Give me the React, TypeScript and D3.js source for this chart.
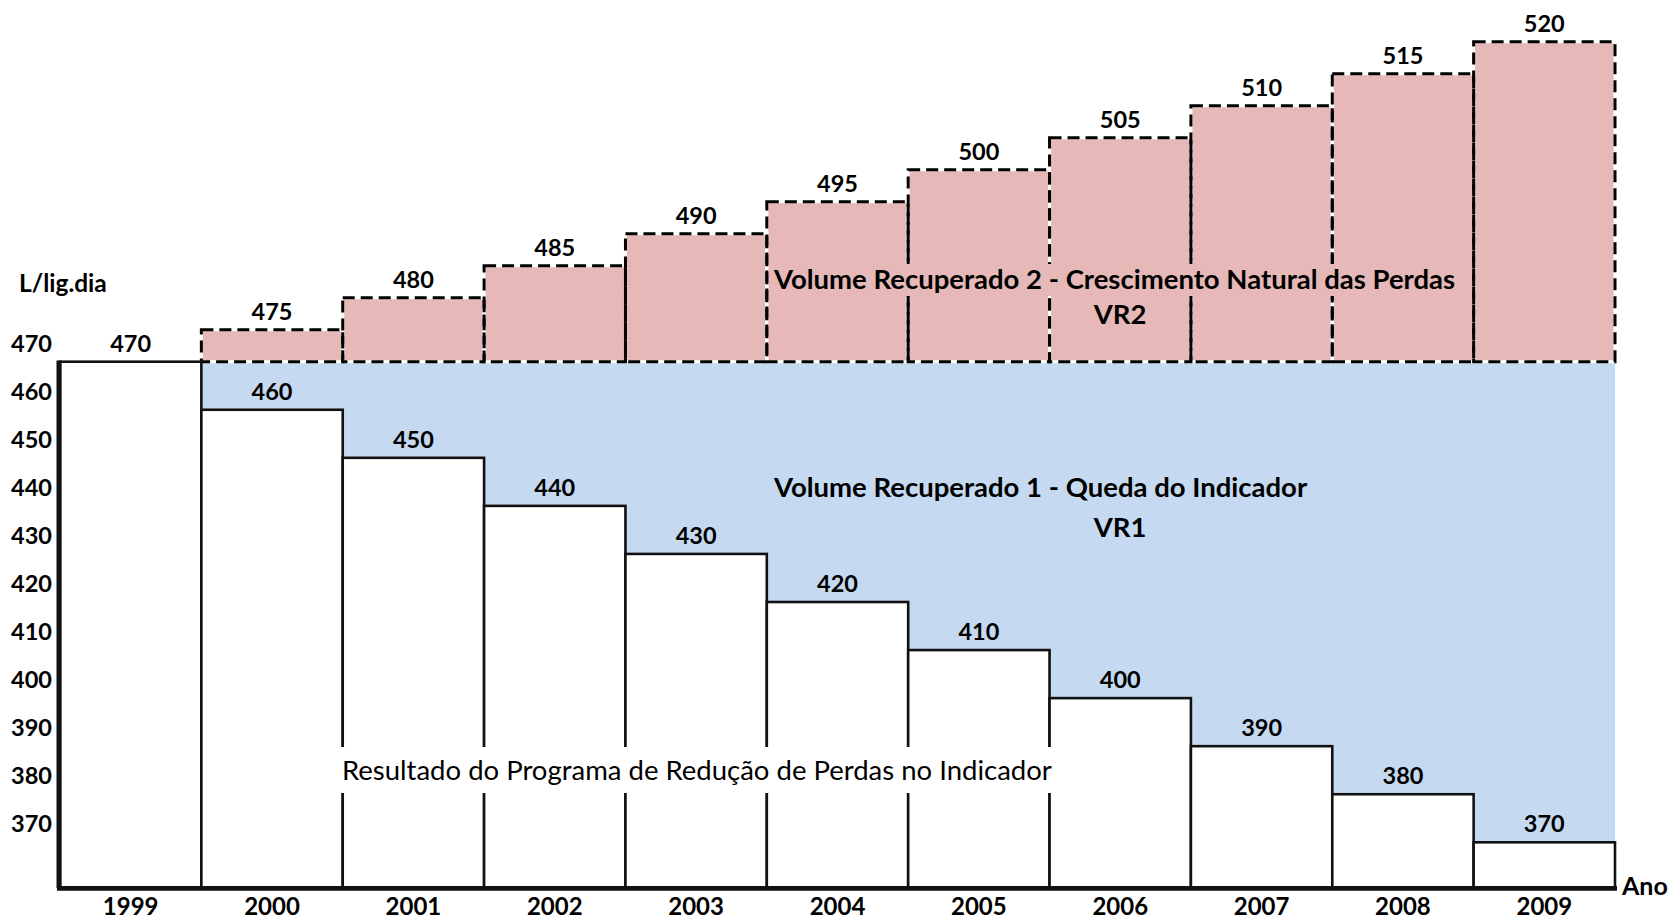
import React from 'react';
import * as d3 from 'd3';

const years = ['1999', '2000', '2001', '2002', '2003', '2004', '2005', '2006', '2007', '2008', '2009'];
const indicatorValues = [470, 460, 450, 440, 430, 420, 410, 400, 390, 380, 370];
const naturalYears = ['2000', '2001', '2002', '2003', '2004', '2005', '2006', '2007', '2008', '2009'];
const naturalValues = [475, 480, 485, 490, 495, 500, 505, 510, 515, 520];
const yTicks = [470, 460, 450, 440, 430, 420, 410, 400, 390, 380, 370];

const W = 1669;
const H = 920;
const FONT = 'Lato, "Open Sans", sans-serif';
const PINK = '#e6b8b7';
const BLUE = '#c5d9f1';

export default function App() {
  const x = d3.scaleBand<string>().domain(years).range([60, 1615]).padding(0);
  const y = d3.scaleLinear().domain([370, 470]).range([842.3, 361.7]);
  const y2 = d3.scaleLinear().domain([470, 520]).range([y(470), 41.7]);
  const baseline = 888.3;
  const bw = x.bandwidth();
  const right = x.range()[1];
  const numSize = 23.5;

  return (
    <svg width={W} height={H} style={{ position: 'absolute', left: 0, top: 0, background: '#fff' }}>
      <rect x={0} y={0} width={W} height={H} fill="#fff" />
      {/* VR1 blue area */}
      <rect x={x('2000')!} y={y(470)} width={right - x('2000')!} height={baseline - y(470)} fill={BLUE} />
      {/* VR2 pink bars */}
      {naturalYears.map((yr, i) => (
        <rect key={'pf' + yr} x={x(yr)!} y={y2(naturalValues[i])} width={bw} height={y(470) - y2(naturalValues[i])} fill={PINK} />
      ))}
      {naturalYears.map((yr, i) => (
        <rect key={'pw' + yr} x={x(yr)!} y={y2(naturalValues[i])} width={bw} height={y(470) - y2(naturalValues[i])} fill="none" stroke="#fff" strokeWidth={3} />
      ))}
      {naturalYears.map((yr, i) => (
        <rect key={'pd' + yr} x={x(yr)!} y={y2(naturalValues[i])} width={bw} height={y(470) - y2(naturalValues[i])} fill="none" stroke="#000" strokeWidth={3} strokeDasharray="12 6" />
      ))}
      {/* Indicator white bars */}
      {years.map((yr, i) => (
        <rect key={'w' + yr} x={x(yr)!} y={y(indicatorValues[i])} width={bw} height={baseline - y(indicatorValues[i])} fill="#fff" stroke="#111" strokeWidth={2.6} />
      ))}
      {/* axes */}
      <line x1={59} x2={59} y1={y(470) - 1.3} y2={baseline} stroke="#111" strokeWidth={5} />
      <line x1={57} x2={1617} y1={baseline} y2={baseline} stroke="#111" strokeWidth={4.7} />
      {/* y tick labels */}
      {yTicks.map((t) => (
        <text key={'t' + t} x={11} y={y(t) - 19} dominantBaseline="central" fontFamily={FONT} fontWeight="bold" fontSize={numSize} fill="#000">
          {t}
        </text>
      ))}
      <text x={19} y={282} dominantBaseline="central" fontFamily={FONT} fontWeight="bold" fontSize={24.5} fill="#000">L/lig.dia</text>
      {/* year labels */}
      {years.map((yr) => (
        <text key={'yl' + yr} x={x(yr)! + bw / 2} y={905} textAnchor="middle" dominantBaseline="central" fontFamily={FONT} fontWeight="bold" fontSize={24} fill="#000">
          {yr}
        </text>
      ))}
      <text x={1622} y={885} dominantBaseline="central" fontFamily={FONT} fontWeight="bold" fontSize={25} fill="#000">Ano</text>
      {/* value labels */}
      {years.map((yr, i) => (
        <text key={'v' + yr} x={x(yr)! + bw / 2} y={y(indicatorValues[i]) - 19} textAnchor="middle" dominantBaseline="central" fontFamily={FONT} fontWeight="bold" fontSize={numSize} fill="#000">
          {indicatorValues[i]}
        </text>
      ))}
      {naturalYears.map((yr, i) => (
        <text key={'n' + yr} x={x(yr)! + bw / 2} y={y2(naturalValues[i]) - 19} textAnchor="middle" dominantBaseline="central" fontFamily={FONT} fontWeight="bold" fontSize={numSize} fill="#000">
          {naturalValues[i]}
        </text>
      ))}
      {/* annotation texts */}
      <rect x={772} y={264} width={690} height={32} fill={PINK} />
      <text x={774} y={278} dominantBaseline="central" fontFamily={FONT} fontWeight="bold" fontSize={27.5} fill="#000">Volume Recuperado 2 - Crescimento Natural das Perdas</text>
      <text x={1120} y={313} textAnchor="middle" dominantBaseline="central" fontFamily={FONT} fontWeight="bold" fontSize={27.5} fill="#000">VR2</text>
      <text x={774} y={486} dominantBaseline="central" fontFamily={FONT} fontWeight="bold" fontSize={27.5} fill="#000">Volume Recuperado 1 - Queda do Indicador</text>
      <text x={1120} y={526} textAnchor="middle" dominantBaseline="central" fontFamily={FONT} fontWeight="bold" fontSize={27.5} fill="#000">VR1</text>
      <rect x={338} y={747} width={717} height={46} fill="#fff" />
      <text x={342} y={769} dominantBaseline="central" fontFamily={FONT} fontSize={27.5} fill="#000">Resultado do Programa de Redução de Perdas no Indicador</text>
    </svg>
  );
}
